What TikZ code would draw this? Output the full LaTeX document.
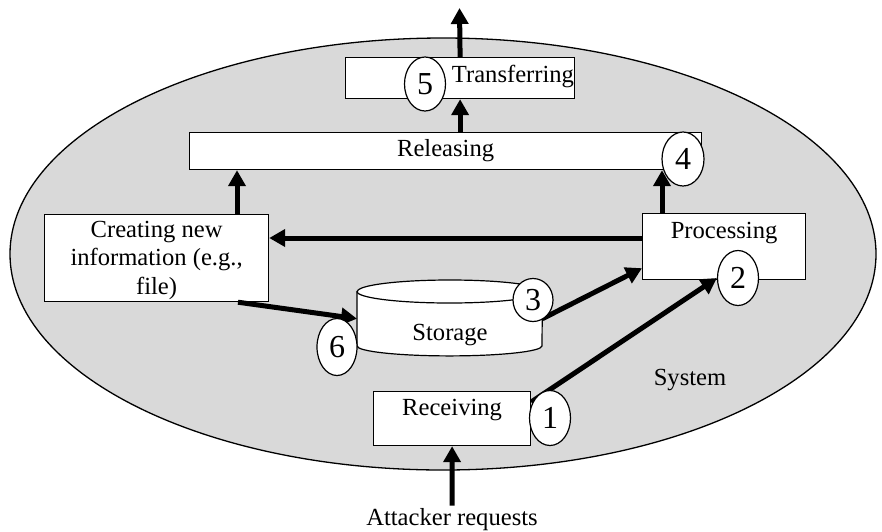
\documentclass[tikz,border=0pt]{standalone}
\usepackage{fontspec}
\setmainfont{Liberation Serif}
\usetikzlibrary{arrows.meta,calc,shapes.geometric}
\definecolor{sysgray}{RGB}{217,217,217}
\pgfdeclarelayer{front}
\pgfsetlayers{main,front}
\begin{document}
\begin{tikzpicture}[x=1pt,y=-1pt,
  font=\fontsize{24.6}{28.5}\selectfont,
  outline/.style={draw, line width=1.2pt, fill=white},
  box/.style={outline, inner sep=0pt, anchor=north west},
  badge/.style={ellipse, outline, inner sep=0pt, minimum width=41pt, minimum height=54pt,
                font=\fontsize{32}{34}\selectfont},
  flow/.style={line width=5pt, -{Triangle[width=17pt,length=16pt]}},
  txt/.style={inner sep=0pt}
]
\useasboundingbox (0,0) rectangle (882,531);

% system boundary
\node[ellipse, draw, fill=sysgray, line width=1.3pt, inner sep=0pt,
      minimum width=866pt, minimum height=432pt] (sys) at (443,254) {};
\fill[white] (740,413) rectangle (760,426);

% process boxes
\node[box, minimum width=229pt, minimum height=41pt] (trans) at (345,57) {};
\node[box, minimum width=512pt, minimum height=37pt] (rel) at (189,132) {};
\node[box, minimum width=224pt, minimum height=87pt] (create) at (44,214) {};
\node[box, minimum width=163pt, minimum height=66pt] (proc) at (642,213) {};
\node[box, minimum width=157pt, minimum height=54pt] (rec) at (373,391) {};

% storage drum
\node[inner sep=0pt, minimum width=185pt, minimum height=54pt, anchor=north west] (st) at (357,291.5) {};
\draw[outline] (st.north west) -- (st.south west)
  arc[start angle=180, end angle=360, x radius=92.5pt, y radius=10pt]
  -- (st.north east)
  arc[start angle=0, end angle=180, x radius=92.5pt, y radius=11.5pt] -- cycle;
\draw[line width=1.2pt] (st.north west)
  arc[start angle=180, end angle=360, x radius=92.5pt, y radius=11.5pt];

% labels
\node[txt, anchor=base east] (translab) at ([xshift=-1pt, yshift=-25pt]trans.north east) {Transferring};
\node[txt, anchor=base] (rellab) at ([yshift=-24pt]rel.north) {Releasing};
\node[txt, align=center] (createlab) at ([yshift=-2pt]create.center) {Creating new\\information (e.g.,\\file)};
\node[txt, anchor=base] (proclab) at ([yshift=-25pt]proc.north) {Processing};
\node[txt, anchor=base] (reclab) at ([yshift=-24pt]rec.north) {Receiving};
\node[txt, anchor=base] (stlab) at (450,340) {Storage};
\node[txt, anchor=base] (syslab) at (690,385) {System};
\node[txt, anchor=base, inner sep=2pt] (att) at (452,525) {Attacker requests};

% step numbers, kept above the flows
\begin{pgfonlayer}{front}
\node[badge] (c5) at (425,84) {5};
\node[badge, minimum width=42pt] (c4) at (683,159) {4};
\node[badge, minimum height=55pt] (c2) at (738,278) {2};
\node[badge, minimum width=40pt, minimum height=43pt] (c3) at (533,300) {3};
\node[badge, minimum width=40pt, minimum height=57pt] (c6) at (337,347) {6};
\node[badge, minimum height=55pt] (c1) at (550,418) {1};
\end{pgfonlayer}

% flows
\coordinate (outp) at (459.5,8);
\coordinate (cup) at ([xshift=193pt]create.north west);
\coordinate (pup) at ([xshift=20pt]proc.north west);
\coordinate (pleft) at ([yshift=-25pt]proc.north west);
\coordinate (cdown) at ([xshift=194pt]create.south west);

\draw[flow] (trans.north) -- (outp);
\draw[flow] (rel.north -| trans.south) -- (trans.south);
\draw[flow] (cup) -- (cup |- rel.south);
\draw[flow] (pup) -- (pup |- rel.south);
\draw[flow] (pleft) -- (pleft -| create.east);
\draw[flow] (cdown) -- (st.west);
\draw[flow] (st.east) -- ([yshift=12pt]proc.south west);
\draw[flow] ([yshift=-11pt]rec.north east) -- (c2.west);
\draw[flow] (att.north) -- (rec.south);
\end{tikzpicture}
\end{document}
